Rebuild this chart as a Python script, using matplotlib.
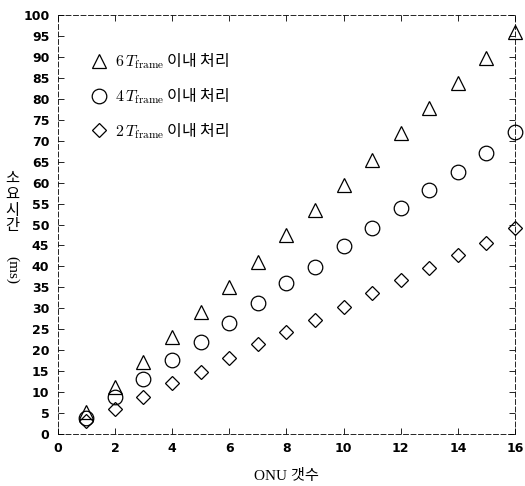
import matplotlib
matplotlib.use('Agg')
import matplotlib.pyplot as plt
import numpy as np

plt.rcParams['font.family'] = ['Liberation Serif', 'Noto Sans CJK KR', 'DejaVu Sans']
plt.rcParams['mathtext.fontset'] = 'cm'

onu = [1, 2, 3, 4, 5, 6, 7, 8, 9, 10, 11, 12, 13, 14, 15, 16]
t6 = [5.2, 11.2, 17.2, 23.2, 29.1, 35.1, 41.0, 47.5, 53.5, 59.4, 65.4, 71.8, 77.8, 83.8, 89.7, 96.0]
t4 = [3.8, 8.8, 13.1, 17.7, 22.0, 26.5, 31.3, 36.0, 39.9, 44.8, 49.2, 53.9, 58.2, 62.5, 67.0, 72.0]
t2 = [3.0, 6.0, 8.8, 12.2, 14.8, 18.1, 21.5, 24.3, 27.2, 30.3, 33.6, 36.8, 39.6, 42.7, 45.7, 49.2]
labels = [r'$6\,T_{\mathrm{frame}}$ 이내 처리',
          r'$4\,T_{\mathrm{frame}}$ 이내 처리',
          r'$2\,T_{\mathrm{frame}}$ 이내 처리']

fig = plt.figure(figsize=(5.25, 4.86), dpi=100)
ax = fig.add_axes([0.110, 0.107, 0.871, 0.862])

ax.plot(onu, t6, ls='none', marker='^', ms=10, mfc='none', mec='black', mew=0.9, clip_on=False, label=labels[0])
ax.plot(onu, t4, ls='none', marker='o', ms=10.5, mfc='none', mec='black', mew=0.9, clip_on=False, label=labels[1])
ax.plot(onu, t2, ls='none', marker='D', ms=7.5, mfc='none', mec='black', mew=0.9, clip_on=False, label=labels[2])

ax.set_xlim(0, 16)
ax.set_ylim(0, 100)
ax.set_xticks(np.arange(0, 17, 2))
ax.set_yticks(np.arange(0, 101, 5))
ax.tick_params(direction='in', top=True, right=True, length=4, width=0.6, labelsize=9, pad=6)
for lab in ax.get_xticklabels() + ax.get_yticklabels():
    lab.set_fontweight('bold')
    lab.set_family('DejaVu Sans')
for sp in ax.spines.values():
    sp.set_linewidth(0.6)
    sp.set_linestyle((0, (6, 3)))

leg = ax.legend(loc='upper left', bbox_to_anchor=(0.035, 0.948), frameon=False,
                prop={'family': ['Noto Sans CJK KR', 'DejaVu Sans'], 'size': 11.5},
                handletextpad=0.4, labelspacing=0.95, handlelength=1.3)

ax.set_xlabel('ONU 갯수', fontsize=11, labelpad=10)
fig.text(0.024, 0.584, '소\n요\n시\n간', fontsize=11, ha='center', va='center', linespacing=0.9,
         family=['Noto Sans CJK KR'])
fig.text(0.024, 0.444, '(ms)', fontsize=11, ha='center', va='center', rotation=-90)

fig.savefig('out.png', dpi=100)
